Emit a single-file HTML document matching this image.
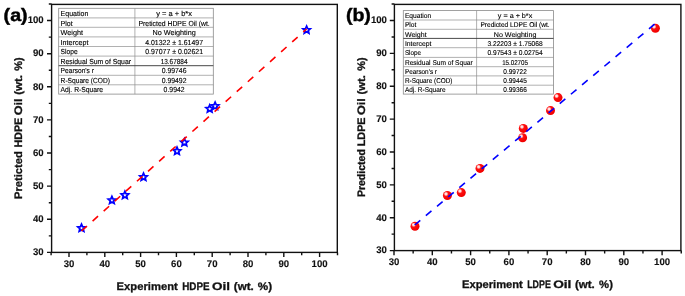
<!DOCTYPE html>
<html lang="en"><head><meta charset="utf-8"><title>Predicted vs Experiment Oil</title>
<style>
html,body{margin:0;padding:0;background:#fff}
body{width:685px;height:296px;overflow:hidden}
svg{display:block}
text{font-family:"Liberation Sans",sans-serif;fill:#111;text-rendering:geometricPrecision}
.tk text{font-size:9.6px;font-weight:bold;stroke:#111;stroke-width:0.12px}
.al text{font-size:10.9px;font-weight:bold;stroke:#111;stroke-width:0.3px}
.pl{font-size:17.9px;font-weight:bold;fill:#000;stroke:#000;stroke-width:0.45px}
.tt text{font-weight:normal;fill:#000;stroke:#000;stroke-width:0.12px}
</style></head><body>
<svg width="685" height="296" viewBox="0 0 685 296">
<defs><radialGradient id="sg" cx="0.36" cy="0.34" r="0.62" fx="0.34" fy="0.32"><stop offset="0" stop-color="#fff"/><stop offset="0.2" stop-color="#ffd0d0"/><stop offset="0.42" stop-color="#ff1010"/><stop offset="1" stop-color="#f00000"/></radialGradient></defs>
<rect width="685" height="296" fill="#fff"/>
<rect x="51.6" y="4.4" width="285.7" height="248" fill="none" stroke="#111" stroke-width="1.4"/>
<path d="M51.1 252.4v2.8M69 252.4v4.6M86.9 252.4v2.8M104.8 252.4v4.6M122.7 252.4v2.8M140.6 252.4v4.6M158.5 252.4v2.8M176.4 252.4v4.6M194.3 252.4v2.8M212.2 252.4v4.6M230.1 252.4v2.8M248 252.4v4.6M265.9 252.4v2.8M283.8 252.4v4.6M301.7 252.4v2.8M319.6 252.4v4.6M337.5 252.4v2.8M51.6 252.4h-4.6M51.6 235.84h-2.8M51.6 219.28h-4.6M51.6 202.72h-2.8M51.6 186.16h-4.6M51.6 169.6h-2.8M51.6 153.04h-4.6M51.6 136.48h-2.8M51.6 119.92h-4.6M51.6 103.36h-2.8M51.6 86.8h-4.6M51.6 70.24h-2.8M51.6 53.68h-4.6M51.6 37.12h-2.8M51.6 20.56h-4.6M51.6 4h-2.8" stroke="#111" stroke-width="1.4" fill="none"/>
<g class="tk" text-anchor="middle">
<text x="69" y="267.4">30</text>
<text x="104.8" y="267.4">40</text>
<text x="140.6" y="267.4">50</text>
<text x="176.4" y="267.4">60</text>
<text x="212.2" y="267.4">70</text>
<text x="248" y="267.4">80</text>
<text x="283.8" y="267.4">90</text>
<text x="319.6" y="267.4">100</text>
</g>
<g class="tk" text-anchor="end">
<text x="43.7" y="255.2">30</text>
<text x="43.7" y="222.08">40</text>
<text x="43.7" y="188.96">50</text>
<text x="43.7" y="155.84">60</text>
<text x="43.7" y="122.72">70</text>
<text x="43.7" y="89.6">80</text>
<text x="43.7" y="56.48">90</text>
<text x="43.7" y="23.36">100</text>
</g>
<g class="al">
<text x="116.6" y="289.9" textLength="61.2" lengthAdjust="spacingAndGlyphs">Experiment</text>
<text x="182.2" y="289.9" textLength="27.4" lengthAdjust="spacingAndGlyphs">HDPE</text>
<text x="211.9" y="289.9" textLength="18" lengthAdjust="spacingAndGlyphs">Oil</text>
<text x="233.8" y="289.9" textLength="19.9" lengthAdjust="spacingAndGlyphs">(wt.</text>
<text x="257.8" y="289.9" textLength="14.3" lengthAdjust="spacingAndGlyphs">%)</text>
</g>
<g class="al" transform="translate(21.6 0) rotate(-90)">
<text x="-199.1" y="0" textLength="48" lengthAdjust="spacingAndGlyphs">Preticted</text>
<text x="-147.6" y="0" textLength="29.8" lengthAdjust="spacingAndGlyphs">HDPE</text>
<text x="-115.3" y="0" textLength="16.8" lengthAdjust="spacingAndGlyphs">Oil</text>
<text x="-94.7" y="0" textLength="19.7" lengthAdjust="spacingAndGlyphs">(wt.</text>
<text x="-70.8" y="0" textLength="13.4" lengthAdjust="spacingAndGlyphs">%)</text>
</g>
<text class="pl" x="3.6" y="21.3" textLength="24" lengthAdjust="spacingAndGlyphs">(a)</text>
<rect x="58.7" y="8.3" width="154.6" height="85.8" fill="#fff" stroke="#8a8a8a" stroke-width="0.8"/>
<path d="M58.7 17.9H213.3M58.7 27.3H213.3M58.7 36.9H213.3M58.7 46.5H213.3M58.7 56.1H213.3M58.7 75.3H213.3M58.7 84.8H213.3M134.9 8.3V94.1" stroke="#8f8f8f" stroke-width="0.7" fill="none"/>
<path d="M58.7 65.7H213.3" stroke="#333" stroke-width="0.9" fill="none"/>
<g class="tt" font-size="7.3">
<text x="60.6" y="15.9" textLength="27.7" lengthAdjust="spacingAndGlyphs">Equation</text>
<text x="156.2" y="15.9" textLength="35.8" lengthAdjust="spacingAndGlyphs">y = a + b*x</text>
<text x="60.6" y="25.5" textLength="12.1" lengthAdjust="spacingAndGlyphs">Plot</text>
<text x="138.5" y="25.5" textLength="71.2" lengthAdjust="spacingAndGlyphs">Preticted HDPE Oil (wt.</text>
<text x="60.6" y="35" textLength="22.5" lengthAdjust="spacingAndGlyphs">Weight</text>
<text x="152.4" y="35" textLength="43.4" lengthAdjust="spacingAndGlyphs">No Weighting</text>
<text x="60.6" y="44.5" textLength="27.8" lengthAdjust="spacingAndGlyphs">Intercept</text>
<text x="145.2" y="44.5" textLength="57.8" lengthAdjust="spacingAndGlyphs">4.01322 ± 1.61497</text>
<text x="60.6" y="54.1" textLength="17" lengthAdjust="spacingAndGlyphs">Slope</text>
<text x="145.2" y="54.1" textLength="57.8" lengthAdjust="spacingAndGlyphs">0.97077 ± 0.02621</text>
<text x="60.6" y="63.6" textLength="70.4" lengthAdjust="spacingAndGlyphs">Residual Sum of Squar</text>
<text x="160.65" y="63.6" textLength="26.9" lengthAdjust="spacingAndGlyphs">13.67884</text>
<text x="60.6" y="73.2" textLength="33.4" lengthAdjust="spacingAndGlyphs">Pearson's r</text>
<text x="161.7" y="73.2" textLength="24.8" lengthAdjust="spacingAndGlyphs">0.99746</text>
<text x="60.6" y="82.6" textLength="49.4" lengthAdjust="spacingAndGlyphs">R-Square (COD)</text>
<text x="161.7" y="82.6" textLength="24.8" lengthAdjust="spacingAndGlyphs">0.99492</text>
<text x="60.6" y="92" textLength="42.5" lengthAdjust="spacingAndGlyphs">Adj. R-Square</text>
<text x="163.6" y="92" textLength="21" lengthAdjust="spacingAndGlyphs">0.9942</text>
</g>
<g fill="#fff" stroke="#0000ff" stroke-width="1.75" stroke-linejoin="miter">
<polygon points="81.5,224.2 82.56,226.64 85.21,226.89 83.21,228.66 83.79,231.26 81.5,229.9 79.21,231.26 79.79,228.66 77.79,226.89 80.44,226.64"/>
<polygon points="111.9,196.4 112.96,198.84 115.61,199.09 113.61,200.86 114.19,203.46 111.9,202.1 109.61,203.46 110.19,200.86 108.19,199.09 110.84,198.84"/>
<polygon points="124.9,191.3 125.96,193.74 128.61,193.99 126.61,195.76 127.19,198.36 124.9,197 122.61,198.36 123.19,195.76 121.19,193.99 123.84,193.74"/>
<polygon points="143.5,173.2 144.56,175.64 147.21,175.89 145.21,177.66 145.79,180.26 143.5,178.9 141.21,180.26 141.79,177.66 139.79,175.89 142.44,175.64"/>
<polygon points="177,147.2 178.06,149.64 180.71,149.89 178.71,151.66 179.29,154.26 177,152.9 174.71,154.26 175.29,151.66 173.29,149.89 175.94,149.64"/>
<polygon points="184.4,138.6 185.46,141.04 188.11,141.29 186.11,143.06 186.69,145.66 184.4,144.3 182.11,145.66 182.69,143.06 180.69,141.29 183.34,141.04"/>
<polygon points="209.7,105 210.76,107.44 213.41,107.69 211.41,109.46 211.99,112.06 209.7,110.7 207.41,112.06 207.99,109.46 205.99,107.69 208.64,107.44"/>
<polygon points="215.1,102.2 216.16,104.64 218.81,104.89 216.81,106.66 217.39,109.26 215.1,107.9 212.81,109.26 213.39,106.66 211.39,104.89 214.04,104.64"/>
<polygon points="306.6,26.1 307.66,28.54 310.31,28.79 308.31,30.56 308.89,33.16 306.6,31.8 304.31,33.16 304.89,30.56 302.89,28.79 305.54,28.54"/>
</g>
<line x1="81.5" y1="231.0" x2="306.6" y2="29.0" stroke="#ff0000" stroke-width="1.6" stroke-dasharray="7.3 7.6"/>
<rect x="394.4" y="4.4" width="286.5" height="246.2" fill="none" stroke="#111" stroke-width="1.4"/>
<path d="M394 250.6v4.6M413.15 250.6v2.8M432.3 250.6v4.6M451.45 250.6v2.8M470.6 250.6v4.6M489.75 250.6v2.8M508.9 250.6v4.6M528.05 250.6v2.8M547.2 250.6v4.6M566.35 250.6v2.8M585.5 250.6v4.6M604.65 250.6v2.8M623.8 250.6v4.6M642.95 250.6v2.8M662.1 250.6v4.6M681.25 250.6v2.8M394.4 250.6h-4.6M394.4 234.16h-2.8M394.4 217.73h-4.6M394.4 201.29h-2.8M394.4 184.86h-4.6M394.4 168.43h-2.8M394.4 151.99h-4.6M394.4 135.56h-2.8M394.4 119.12h-4.6M394.4 102.69h-2.8M394.4 86.25h-4.6M394.4 69.81h-2.8M394.4 53.38h-4.6M394.4 36.94h-2.8M394.4 20.51h-4.6M394.4 4.07h-2.8" stroke="#111" stroke-width="1.4" fill="none"/>
<g class="tk" text-anchor="middle">
<text x="394" y="265.1">30</text>
<text x="432.3" y="265.1">40</text>
<text x="470.6" y="265.1">50</text>
<text x="508.9" y="265.1">60</text>
<text x="547.2" y="265.1">70</text>
<text x="585.5" y="265.1">80</text>
<text x="623.8" y="265.1">90</text>
<text x="662.1" y="265.1">100</text>
</g>
<g class="tk" text-anchor="end">
<text x="386.9" y="253.4">30</text>
<text x="386.9" y="220.53">40</text>
<text x="386.9" y="187.66">50</text>
<text x="386.9" y="154.79">60</text>
<text x="386.9" y="121.92">70</text>
<text x="386.9" y="89.05">80</text>
<text x="386.9" y="56.18">90</text>
<text x="386.9" y="23.31">100</text>
</g>
<g class="al">
<text x="462.1" y="287.9" textLength="60.7" lengthAdjust="spacingAndGlyphs">Experiment</text>
<text x="527.2" y="287.9" textLength="23.6" lengthAdjust="spacingAndGlyphs">LDPE</text>
<text x="553.2" y="287.9" textLength="18.2" lengthAdjust="spacingAndGlyphs">Oil</text>
<text x="575" y="287.9" textLength="19.8" lengthAdjust="spacingAndGlyphs">(wt.</text>
<text x="599.1" y="287.9" textLength="13.8" lengthAdjust="spacingAndGlyphs">%)</text>
</g>
<g class="al" transform="translate(365 0) rotate(-90)">
<text x="-197.1" y="0" textLength="47.9" lengthAdjust="spacingAndGlyphs">Predicted</text>
<text x="-146.3" y="0" textLength="28.9" lengthAdjust="spacingAndGlyphs">LDPE</text>
<text x="-115" y="0" textLength="16.8" lengthAdjust="spacingAndGlyphs">Oil</text>
<text x="-94.5" y="0" textLength="19.5" lengthAdjust="spacingAndGlyphs">(wt.</text>
<text x="-70.8" y="0" textLength="13.4" lengthAdjust="spacingAndGlyphs">%)</text>
</g>
<text class="pl" x="345.9" y="21" textLength="25" lengthAdjust="spacingAndGlyphs">(b)</text>
<rect x="403.3" y="10.6" width="150.2" height="83.5" fill="#fff" stroke="#8a8a8a" stroke-width="0.8"/>
<path d="M403.3 20H553.5M403.3 29.3H553.5M403.3 47.7H553.5M403.3 57.4H553.5M403.3 66.7H553.5M403.3 75.9H553.5M403.3 85.2H553.5M476.6 10.6V94.1" stroke="#8f8f8f" stroke-width="0.7" fill="none"/>
<path d="M403.3 38.4H553.5" stroke="#333" stroke-width="0.9" fill="none"/>
<g class="tt" font-size="7.0">
<text x="404.9" y="17.9" textLength="26.3" lengthAdjust="spacingAndGlyphs">Equation</text>
<text x="497.85" y="17.9" textLength="34.4" lengthAdjust="spacingAndGlyphs">y = a + b*x</text>
<text x="404.9" y="27.3" textLength="11.5" lengthAdjust="spacingAndGlyphs">Plot</text>
<text x="480.4" y="27.3" textLength="69.3" lengthAdjust="spacingAndGlyphs">Predicted LDPE Oil (wt.</text>
<text x="404.9" y="36.5" textLength="21.7" lengthAdjust="spacingAndGlyphs">Weight</text>
<text x="493.75" y="36.5" textLength="42.6" lengthAdjust="spacingAndGlyphs">No Weighting</text>
<text x="404.9" y="45.8" textLength="26.6" lengthAdjust="spacingAndGlyphs">Intercept</text>
<text x="487.45" y="45.8" textLength="55.2" lengthAdjust="spacingAndGlyphs">3.22203 ± 1.75068</text>
<text x="404.9" y="55.3" textLength="16.1" lengthAdjust="spacingAndGlyphs">Slope</text>
<text x="487.45" y="55.3" textLength="55.2" lengthAdjust="spacingAndGlyphs">0.97543 ± 0.02754</text>
<text x="404.9" y="64.5" textLength="67.8" lengthAdjust="spacingAndGlyphs">Residual Sum of Squar</text>
<text x="502.15" y="64.5" textLength="25.8" lengthAdjust="spacingAndGlyphs">15.02705</text>
<text x="404.9" y="73.7" textLength="32.1" lengthAdjust="spacingAndGlyphs">Pearson's r</text>
<text x="503.35" y="73.7" textLength="23.4" lengthAdjust="spacingAndGlyphs">0.99722</text>
<text x="404.9" y="82.9" textLength="47.6" lengthAdjust="spacingAndGlyphs">R-Square (COD)</text>
<text x="503.35" y="82.9" textLength="23.4" lengthAdjust="spacingAndGlyphs">0.99445</text>
<text x="404.9" y="92.1" textLength="40.7" lengthAdjust="spacingAndGlyphs">Adj. R-Square</text>
<text x="503.35" y="92.1" textLength="23.4" lengthAdjust="spacingAndGlyphs">0.99366</text>
</g>
<g fill="url(#sg)">
<circle cx="415" cy="226.3" r="4.5"/>
<circle cx="447.4" cy="195.5" r="4.5"/>
<circle cx="461.3" cy="192.6" r="4.5"/>
<circle cx="480" cy="168.4" r="4.5"/>
<circle cx="522.6" cy="137.7" r="4.5"/>
<circle cx="523.3" cy="128.4" r="4.5"/>
<circle cx="550.5" cy="110.6" r="4.5"/>
<circle cx="558" cy="97.6" r="4.5"/>
<circle cx="655.4" cy="28.3" r="4.5"/>
</g>
<line x1="414.7" y1="225.0" x2="654.6" y2="24.2" stroke="#0000ff" stroke-width="1.6" stroke-dasharray="7.3 7.25"/>
</svg></body></html>
